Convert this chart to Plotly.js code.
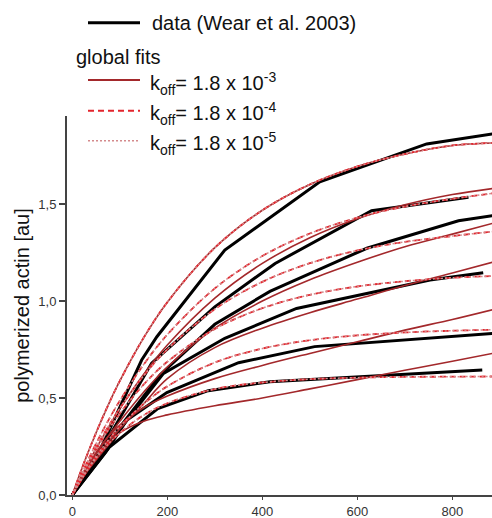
<!DOCTYPE html>
<html>
<head>
<meta charset="utf-8">
<script src="https://cdn.plot.ly/plotly-3.0.1.min.js"></script>
<style>html,body{margin:0;padding:0;background:#fff;}#chart{width:492px;height:518px;}</style>
</head>
<body>
<div id="chart"></div>
<script>
// ---- data (time in s, polymerized actin in au) ----
const dataAx = [0, 60, 146, 178, 321, 521, 746, 884];
const dataAy = [0, 0.24, 0.696, 0.816, 1.263, 1.615, 1.81, 1.861];
const dataBx = [0, 70, 167, 300, 427, 630, 834];
const dataBy = [0, 0.27, 0.68, 0.97, 1.194, 1.466, 1.535];
const dataCx = [0, 75, 185, 300, 416, 620, 813, 884];
const dataCy = [0, 0.27, 0.62, 0.88, 1.05, 1.272, 1.414, 1.44];
const dataDx = [0, 75, 192, 321, 472, 753, 865];
const dataDy = [0, 0.26, 0.627, 0.808, 0.962, 1.108, 1.146];
const dataEx = [0, 70, 115, 199, 350, 510, 884];
const dataEy = [0, 0.22, 0.387, 0.528, 0.682, 0.765, 0.833];
const dataFx = [0, 79, 180, 286, 416, 863];
const dataFy = [0, 0.249, 0.445, 0.538, 0.584, 0.644];

// ---- global fits, sampled times ----
const fitT = [0, 25, 50, 75, 100, 150, 200, 300, 400, 500, 600, 700, 800, 884];

// koff = 1.8e-3 (solid)
const fit3A = [0, 0.168, 0.321, 0.461, 0.588, 0.81, 0.994, 1.275, 1.468, 1.601, 1.694, 1.758, 1.802, 1.815];
const fit3B = [0, 0.124, 0.239, 0.345, 0.444, 0.621, 0.773, 1.015, 1.194, 1.326, 1.424, 1.496, 1.549, 1.58];
const fit3C = [0, 0.11, 0.21, 0.3, 0.38, 0.53, 0.66, 0.86, 1.0, 1.11, 1.2, 1.28, 1.345, 1.40];
const fit3D = [0, 0.1, 0.19, 0.27, 0.34, 0.47, 0.6, 0.76, 0.86, 0.94, 1.01, 1.08, 1.145, 1.2];
const fit3E = [0, 0.12, 0.22, 0.3, 0.36, 0.45, 0.51, 0.6, 0.668, 0.73, 0.79, 0.85, 0.905, 0.955];
const fit3F = [0, 0.1, 0.18, 0.255, 0.32, 0.38, 0.413, 0.46, 0.50, 0.547, 0.595, 0.643, 0.69, 0.73];

// koff = 1.8e-4 (dashed)
const fit4A = [0, 0.168, 0.321, 0.461, 0.588, 0.81, 0.994, 1.275, 1.468, 1.601, 1.694, 1.758, 1.802, 1.815];
const fit4B = [0, 0.138, 0.265, 0.381, 0.486, 0.672, 0.827, 1.065, 1.232, 1.348, 1.43, 1.487, 1.527, 1.555];
const fit4C = [0, 0.128, 0.245, 0.351, 0.447, 0.614, 0.751, 0.958, 1.099, 1.195, 1.261, 1.305, 1.335, 1.358];
const fit4D = [0, 0.124, 0.234, 0.332, 0.42, 0.569, 0.687, 0.856, 0.963, 1.032, 1.075, 1.102, 1.12, 1.129];
const fit4E = [0, 0.106, 0.199, 0.28, 0.352, 0.469, 0.56, 0.683, 0.755, 0.798, 0.823, 0.838, 0.847, 0.852];
const fit4F = [0, 0.103, 0.189, 0.261, 0.32, 0.411, 0.473, 0.546, 0.58, 0.597, 0.605, 0.609, 0.61, 0.611];

// koff = 1.8e-5 (dotted)
const fit5A = [0, 0.168, 0.321, 0.461, 0.588, 0.81, 0.994, 1.275, 1.468, 1.601, 1.694, 1.758, 1.802, 1.815];
const fit5B = [0, 0.138, 0.265, 0.381, 0.486, 0.672, 0.827, 1.065, 1.232, 1.348, 1.43, 1.487, 1.527, 1.555];
const fit5C = [0, 0.128, 0.245, 0.351, 0.447, 0.614, 0.751, 0.958, 1.099, 1.195, 1.261, 1.305, 1.335, 1.358];
const fit5D = [0, 0.124, 0.234, 0.332, 0.42, 0.569, 0.687, 0.856, 0.963, 1.032, 1.075, 1.102, 1.12, 1.129];
const fit5E = [0, 0.106, 0.199, 0.28, 0.352, 0.469, 0.56, 0.683, 0.755, 0.798, 0.823, 0.838, 0.847, 0.852];
const fit5F = [0, 0.103, 0.189, 0.261, 0.32, 0.411, 0.473, 0.546, 0.58, 0.597, 0.605, 0.609, 0.61, 0.611];

const xTicks = [0, 200, 400, 600, 800];
const yTicks = [0, 0.5, 1.0, 1.5];
const yTickText = ['0,0', '0,5', '1,0', '1,5'];

const legendData = 'data (Wear et al. 2003)';
const legendTitle = 'global fits';
const legendFits = ['k<sub>off</sub>= 1.8 x 10<sup>-3</sup>', 'k<sub>off</sub>= 1.8 x 10<sup>-4</sup>', 'k<sub>off</sub>= 1.8 x 10<sup>-5</sup>'];
const yTitle = 'polymerized actin [au]';

// ---- styles ----
const FONT = 'Liberation Sans, Arial, Helvetica, sans-serif';
const cData = '#000000';
const cSolid = '#a3282b';
const cDash = '#e3252d';
const cDot = '#d48a8c';

const traces = [];
const dataSets = [[dataAx, dataAy], [dataBx, dataBy], [dataCx, dataCy], [dataDx, dataDy], [dataEx, dataEy], [dataFx, dataFy]];
dataSets.forEach(function (d) {
  traces.push({x: d[0], y: d[1], mode: 'lines', line: {color: cData, width: 3}, showlegend: false, hoverinfo: 'skip'});
});
[fit3A, fit3B, fit3C, fit3D, fit3E, fit3F].forEach(function (f) {
  traces.push({x: fitT, y: f, mode: 'lines', line: {color: cSolid, width: 1.6, shape: 'spline'}, showlegend: false, hoverinfo: 'skip'});
});
[fit4A, fit4B, fit4C, fit4D, fit4E, fit4F].forEach(function (f) {
  traces.push({x: fitT, y: f, mode: 'lines', line: {color: cDash, width: 1.8, dash: '6px,4px', shape: 'spline'}, showlegend: false, hoverinfo: 'skip'});
});
[fit5A, fit5B, fit5C, fit5D, fit5E, fit5F].forEach(function (f) {
  traces.push({x: fitT, y: f, mode: 'lines', line: {color: cDot, width: 1.5, dash: '2px,2px', shape: 'spline'}, showlegend: false, hoverinfo: 'skip'});
});

// legend drawn in paper coordinates (plot area: left 67, top 116, width 425, height 379)
function px(x) { return (x - 67) / 425; }
function py(y) { return (495 - y) / 379; }

const shapes = [
  {type: 'line', xref: 'paper', yref: 'paper', x0: px(88), x1: px(140), y0: py(22.7), y1: py(22.7), line: {color: cData, width: 3}},
  {type: 'line', xref: 'paper', yref: 'paper', x0: px(88), x1: px(140), y0: py(80), y1: py(80), line: {color: cSolid, width: 2}},
  {type: 'line', xref: 'paper', yref: 'paper', x0: px(88), x1: px(140), y0: py(110.7), y1: py(110.7), line: {color: cDash, width: 2, dash: '6px,4px'}},
  {type: 'line', xref: 'paper', yref: 'paper', x0: px(88), x1: px(140), y0: py(140.7), y1: py(140.7), line: {color: cDot, width: 1.6, dash: '2px,2px'}}
];

const annFont = {family: FONT, size: 20, color: '#111'};
const annotations = [
  {xref: 'paper', yref: 'paper', x: px(150), y: py(22.7), text: legendData, showarrow: false, xanchor: 'left', yanchor: 'middle', font: annFont},
  {xref: 'paper', yref: 'paper', x: px(74), y: py(57), text: legendTitle, showarrow: false, xanchor: 'left', yanchor: 'middle', font: annFont},
  {xref: 'paper', yref: 'paper', x: px(148), y: py(83), text: legendFits[0], showarrow: false, xanchor: 'left', yanchor: 'middle', font: annFont},
  {xref: 'paper', yref: 'paper', x: px(148), y: py(113.7), text: legendFits[1], showarrow: false, xanchor: 'left', yanchor: 'middle', font: annFont},
  {xref: 'paper', yref: 'paper', x: px(148), y: py(143.7), text: legendFits[2], showarrow: false, xanchor: 'left', yanchor: 'middle', font: annFont}
];

const layout = {
  width: 492, height: 518,
  margin: {l: 67, r: 0, t: 116, b: 23, pad: 0},
  paper_bgcolor: '#fff', plot_bgcolor: '#fff',
  font: {family: FONT, size: 13, color: '#333'},
  showlegend: false,
  xaxis: {
    range: [-11.2, 883.5], tickvals: xTicks, ticktext: xTicks.map(String),
    showgrid: false, zeroline: false, showline: true, linecolor: '#444', linewidth: 2,
    ticks: 'outside', ticklen: 3, tickwidth: 1.5, tickcolor: '#444',
    tickfont: {family: FONT, size: 13, color: '#333'}, fixedrange: true
  },
  yaxis: {
    range: [0, 1.954], tickvals: yTicks, ticktext: yTickText,
    showgrid: false, zeroline: false, showline: true, linecolor: '#444', linewidth: 2,
    ticks: 'outside', ticklen: 6, tickwidth: 1.5, tickcolor: '#444',
    tickfont: {family: FONT, size: 13, color: '#333'},
    title: {text: yTitle, font: {family: FONT, size: 20, color: '#111'}, standoff: 3},
    fixedrange: true
  },
  shapes: shapes,
  annotations: annotations
};

Plotly.newPlot('chart', traces, layout, {displayModeBar: false, staticPlot: true});
</script>
</body>
</html>
